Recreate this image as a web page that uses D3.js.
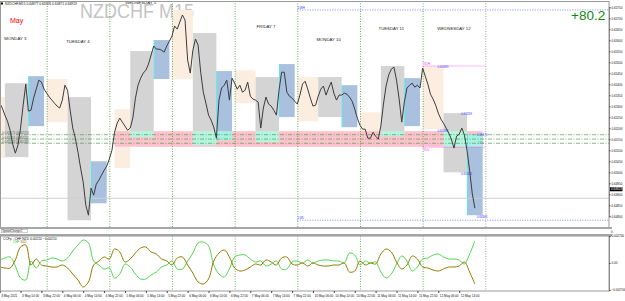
<!DOCTYPE html>
<html>
<head>
<meta charset="utf-8">
<script src="https://cdn.jsdelivr.net/npm/d3@7"></script>
<style>
body { margin: 0; background: #fff; }
svg { font-family: "Liberation Sans", Arial, sans-serif; }
</style>
</head>
<body>
<script>
// ---- data ----
var symbol = "NZDCHF", period = "M15";
var header = "NZDCHF,M15  0.64877 0.64926 0.64871 0.64923";
var score = "+80.2";

// hourly closes, first bar 3 May 06:00 (server time)
var firstBar = "2021-05-03 06:00";
var closes = [
  0.65314,0.65292,0.65260,0.65232,0.65191,0.65128,0.65087,0.65123,0.65201,0.65305,0.65401,0.65278,0.65282,0.65337,0.65378,0.65419,0.65410,0.65378,
  0.65360,0.65342,0.65328,0.65314,0.65301,0.65292,0.65328,0.65396,0.65373,0.65282,0.65201,0.65155,0.65091,0.65019,0.64955,0.64850,0.64805,0.64928,0.64896,0.64946,0.64964,0.64987,0.65009,0.65028,
  0.65060,0.65100,0.65182,0.65223,0.65246,0.65228,0.65210,0.65191,0.65201,0.65246,0.65337,0.65396,0.65428,0.65451,0.65464,0.65492,0.65533,0.65574,0.65560,0.65560,0.65555,0.65546,0.65574,0.65596,
  0.65619,0.65665,0.65651,0.65683,0.65715,0.65692,0.65510,0.65451,0.65555,0.65606,0.65578,0.65455,0.65364,0.65314,0.65260,0.65237,0.65205,0.65155,0.65328,0.65383,0.65396,0.65419,0.65328,0.65428,
  0.65405,0.65378,0.65396,0.65364,0.65373,0.65410,0.65346,0.65333,0.65328,0.65319,0.65201,0.65292,0.65342,0.65310,0.65301,0.65282,0.65260,0.65373,0.65455,0.65455,0.65364,0.65346,0.65337,0.65323,
  0.65310,0.65351,0.65401,0.65414,0.65378,0.65337,0.65301,0.65305,0.65346,0.65378,0.65392,0.65351,0.65383,0.65410,0.65360,0.65328,0.65351,0.65351,0.65360,0.65355,0.65342,0.65323,0.65287,0.65246,
  0.65214,0.65196,0.65196,0.65155,0.65155,0.65182,0.65164,0.65151,0.65210,0.65310,0.65392,0.65442,0.65469,0.65478,0.65419,0.65333,0.65228,0.65319,0.65383,0.65396,0.65405,0.65387,0.65396,0.65383,
  0.65474,0.65437,0.65401,0.65355,0.65333,0.65305,0.65269,0.65242,0.65223,0.65201,0.65178,0.65151,0.65110,0.65164,0.65173,0.65201,0.65169,0.65100,0.65009,0.64905,0.64837
];

var days = ["2021-05-03","2021-05-04","2021-05-05","2021-05-06","2021-05-07","2021-05-10","2021-05-11","2021-05-12"];
var dayNames = ["MONDAY 3","TUESDAY 4","WEDNESDAY 5","THURSDAY 6","FRIDAY 7","MONDAY 10","TUESDAY 11","WEDNESDAY 12"];

// session ranges: asia 00-08, london 08-17, new york 17-23
var asiaStart = ["00:00","00:00","02:00","00:00","00:00","00:00","00:00","00:00"];
var asiaHigh = [0.65342,0.65424,0.65287,0.65738,0.65464,0.65433,0.65273,0.65483];
var asiaLow  = [0.65064,0.65228,0.65019,0.65424,0.65314,0.65232,0.65114,0.65196];
var londonHigh = [0.65405,0.65342,0.65551,0.65633,0.65433,0.65433,0.65483,0.65269];
var londonLow  = [0.65069,0.64782,0.65160,0.65123,0.65138,0.65251,0.65164,0.65000];
var nyHigh = [0.65437,0.65050,0.65601,0.65460,0.65492,0.65396,0.65428,0.65173];
var nyLow  = [0.65210,0.64859,0.65424,0.65146,0.65251,0.65205,0.65210,0.64805];

// demand zone
var zoneHigh = 0.65187, zoneLow = 0.65116;
var zoneFrom = "2021-05-05 02:00", zoneTo = "2021-05-12 23:00";

var pivotLevels = [0.65171, 0.65151, 0.65132];
var bidLine = 0.64882, lastPrice = 0.64923;

var priceTicks = d3.range(0, 20).map(function(i) { return +(0.6480 + i * 0.0005).toFixed(4); });

// CCFp currency strength, every 2 hours from 3 May 06:00
var ccfStep = 2;
var chf = [0.0003,0.0005,0.0006,-0.0003,-0.0015,-0.0017,0.0002,-0.0005,0.0002,0.0003,
  0.0005,0.0004,0.0002,0.0005,0.0012,0.0018,0.0023,0.0020,0.0002,-0.0002,
  -0.0006,-0.0005,-0.0015,-0.0011,-0.0001,-0.0004,-0.0011,-0.0016,-0.0016,-0.0012,
  -0.0009,-0.0004,-0.0002,0.0002,-0.0006,-0.0006,0.0002,0.0010,0.0020,0.0021,
  0.0017,-0.0002,-0.0011,-0.0014,-0.0006,0.0006,0.0008,0.0008,0.0004,0.0001,
  0.0002,-0.0003,-0.0001,0.0002,-0.0006,-0.0006,0.0001,0.0002,0.0000,0.0003,
  0.0000,0.0002,0.0003,0.0003,0.0002,0.0002,0.0000,0.0010,0.0008,-0.0002,
  0.0002,0.0000,0.0001,-0.0009,-0.0015,-0.0011,-0.0001,0.0007,0.0002,-0.0008,
  -0.0004,0.0004,0.0005,0.0008,0.0009,0.0006,0.0004,0.0004,0.0003,-0.0001,
  0.0009,0.0022];
var nzd = [-0.0004,-0.0005,-0.0005,0.0003,0.0016,0.0018,-0.0002,0.0004,-0.0002,-0.0003,
  -0.0004,-0.0004,-0.0002,-0.0005,-0.0011,-0.0017,-0.0024,-0.0019,-0.0002,0.0002,
  0.0006,0.0004,0.0014,0.0011,0.0001,0.0004,0.0010,0.0015,0.0016,0.0011,
  0.0009,0.0004,0.0002,-0.0002,0.0005,0.0006,-0.0002,-0.0010,-0.0019,-0.0021,
  -0.0016,0.0002,0.0010,0.0013,0.0006,-0.0005,-0.0008,-0.0007,-0.0004,-0.0001,
  -0.0002,0.0003,0.0001,-0.0002,0.0005,0.0006,-0.0001,-0.0002,0.0000,-0.0003,
  0.0000,-0.0002,-0.0003,-0.0003,-0.0002,-0.0002,0.0000,-0.0009,-0.0008,0.0002,
  -0.0002,0.0000,-0.0001,0.0009,0.0014,0.0011,0.0001,-0.0006,-0.0002,0.0007,
  0.0004,-0.0004,-0.0005,-0.0007,-0.0008,-0.0006,-0.0004,-0.0004,-0.0003,0.0001,
  -0.0009,-0.0021];
var ccfTicks = [0.0027, 0, -0.0027];

// ---- layout ----
var svg = d3.select("body").append("svg")
    .attr("width", 625)
    .attr("height", 301)
    .style("display", "block");

var right = 609, mainTop = 1, mainBottom = 227, indTop = 236, indBottom = 291;

var parse = d3.timeParse("%Y-%m-%d %H:%M");
var weekStart = parse("2021-05-03 00:00");
// hours on the chart clock (weekend removed)
function th(s) {
    var h = (parse(s) - weekStart) / 36e5;
    return h >= 168 ? h - 48 : h;
}
var t0 = th(firstBar);

var x = d3.scaleLinear().domain([0, 239]).range([-16, 608]);
var y = d3.scaleLinear().domain([0.6480, 0.6575]).range([216.3, 7.3]);
var yi = d3.scaleLinear().domain([-0.0027, 0.0027]).range([290, 236]);

var defs = svg.append("defs");
defs.append("clipPath").attr("id", "clipMain")
    .append("rect").attr("x", 0).attr("y", mainTop).attr("width", right).attr("height", mainBottom - mainTop);
defs.append("clipPath").attr("id", "clipInd")
    .append("rect").attr("x", 0).attr("y", indTop).attr("width", right).attr("height", indBottom - indTop);

var g = svg.append("g").attr("clip-path", "url(#clipMain)");

// watermark
g.append("text")
    .attr("x", 80).attr("y", 18)
    .attr("textLength", 114).attr("lengthAdjust", "spacingAndGlyphs")
    .style("font-size", "20px").style("fill", "#c4c4c4")
    .text(symbol + " " + period);

// sessions
var boxes = [];
days.forEach(function(d, i) {
    boxes.push({kind: "asia", a: th(d + " " + asiaStart[i]), b: th(d + " 08:00"), hi: asiaHigh[i], lo: asiaLow[i]});
    boxes.push({kind: "london", a: th(d + " 08:00"), b: th(d + " 17:00"), hi: londonHigh[i], lo: londonLow[i]});
    boxes.push({kind: "ny", a: th(d + " 17:00"), b: th(d + " 23:00"), hi: nyHigh[i], lo: nyLow[i]});
});
var boxFill = {asia: "#fbeee0", london: "#d4d4d4", ny: "#a9c0df"};

g.selectAll("rect.box").data(boxes).enter().append("rect")
    .attr("class", "box")
    .attr("x", function(d) { return x(d.a); })
    .attr("width", function(d) { return x(d.b) - x(d.a); })
    .attr("y", function(d) { return y(d.hi); })
    .attr("height", function(d) { return y(d.lo) - y(d.hi); })
    .attr("fill", function(d) { return boxFill[d.kind]; });

// zone band
var za = th(zoneFrom), zb = th(zoneTo);
g.append("rect")
    .attr("x", x(za)).attr("width", x(zb) - x(za))
    .attr("y", y(zoneHigh)).attr("height", y(zoneLow) - y(zoneHigh))
    .attr("fill", "#ffc2cd");

// where london / ny boxes cross the zone the colours mix to mint
boxes.filter(function(d) { return d.kind != "asia" && d.b > za && d.lo < zoneHigh && d.hi > zoneLow; })
    .forEach(function(d) {
        var top = Math.min(d.hi, zoneHigh), bot = Math.max(d.lo, zoneLow);
        g.append("rect")
            .attr("x", x(Math.max(d.a, za))).attr("width", x(d.b) - x(Math.max(d.a, za)))
            .attr("y", y(top)).attr("height", y(bot) - y(top))
            .attr("fill", d.kind == "ny" ? "#a6f0e4" : "#b6f4e2");
    });

// cyan left edge on ny boxes
g.selectAll("line.nyedge").data(boxes.filter(function(d) { return d.kind == "ny"; })).enter().append("line")
    .attr("x1", function(d) { return x(d.a) + 0.5; }).attr("x2", function(d) { return x(d.a) + 0.5; })
    .attr("y1", function(d) { return y(d.hi); }).attr("y2", function(d) { return y(d.lo); })
    .attr("stroke", "#5fe8e8").attr("stroke-width", 1);

// bid line
g.append("line").attr("x1", 0).attr("x2", right).attr("y1", y(bidLine)).attr("y2", y(bidLine))
    .attr("stroke", "#cfcfcf").attr("stroke-width", 1);

// pivot levels
g.selectAll("line.pivot").data(pivotLevels).enter().append("line")
    .attr("x1", 0).attr("x2", right)
    .attr("y1", function(d) { return y(d); }).attr("y2", function(d) { return y(d); })
    .attr("stroke", "#4f9f4f").attr("stroke-width", 0.7).attr("stroke-dasharray", "4,1.5,1,1.5");
g.selectAll("text.pivot").data(pivotLevels).enter().append("text")
    .attr("x", 2).attr("y", function(d) { return y(d) - 0.5; })
    .style("font-size", "3px").style("fill", "#555")
    .text(function(d) { return "0 " + d3.format(".5f")(d) + " (" + d3.format(".5f")(d) + ")"; });

// last week high / low
var lastWeek = boxes.slice(0, 15);
var lwh = d3.max(lastWeek, function(d) { return d.hi; });
var lwl = d3.min(lastWeek, function(d) { return d.lo; });
var lwFrom = th("2021-05-10 00:00");
[["LWH", lwh, -0.8], ["LWL", lwl, -0.8]].forEach(function(l) {
    g.append("line").attr("x1", x(lwFrom)).attr("x2", right).attr("y1", y(l[1])).attr("y2", y(l[1]))
        .attr("stroke", "#6b6bff").attr("stroke-width", 0.8).attr("stroke-dasharray", "1,1.5");
    g.append("text").attr("x", x(lwFrom) + 0.5).attr("y", y(l[1]) + l[2])
        .style("font-size", "3.3px").style("fill", "#4444ff").text(l[0]);
});

// yesterday high / low
var yest = boxes.slice(18, 21);
var ydh = d3.max(yest, function(d) { return d.hi; });
var ydl = d3.min(yest, function(d) { return d.lo; });
var ydFrom = th("2021-05-12 00:00"), ydTo = th("2021-05-12 00:00") + 24;
[["YDH", ydh, -0.8], ["YDL", ydl, 3.5]].forEach(function(l) {
    g.append("line").attr("x1", x(ydFrom)).attr("x2", x(ydTo)).attr("y1", y(l[1])).attr("y2", y(l[1]))
        .attr("stroke", "#ff4cff").attr("stroke-width", 0.8).attr("stroke-dasharray", "1,1");
    g.append("text").attr("x", x(ydFrom) + 0.5).attr("y", y(l[1]) + l[2])
        .style("font-size", "3.3px").style("fill", "#ff33ff").text(l[0]);
});

// today's session values
var fmt5 = d3.format(".5f");
boxes.slice(21).forEach(function(d) {
    g.append("text").attr("x", x(d.b) - 6).attr("y", y(d.hi) + 2.2)
        .style("font-size", "3px").style("fill", "#3a3aff").text(fmt5(d.hi));
    g.append("text").attr("x", x(d.b) - 6).attr("y", y(d.lo) + 2.8)
        .style("font-size", "3px").style("fill", "#3a3aff").text(fmt5(d.lo));
});
g.append("text").attr("x", 478).attr("y", 144).style("font-size", "3px").style("fill", "#888").text("23%");

// day separators
var sepDays = days.slice(1).concat(["2021-05-13"]);
function separators(sel, top, bottom) {
    sel.selectAll("line.sep").data(sepDays).enter().append("line")
        .attr("x1", function(d) { return x(th(d + " 00:00")) + 0.5; })
        .attr("x2", function(d) { return x(th(d + " 00:00")) + 0.5; })
        .attr("y1", top).attr("y2", bottom)
        .attr("stroke", function(d, i) { return i == sepDays.length - 1 ? "#8a8a8a" : "#3d9d3d"; })
        .attr("stroke-width", 0.8).attr("stroke-dasharray", "1,1.5");
}
separators(g, mainTop, mainBottom);

// price
var line = d3.line()
    .x(function(d, i) { return x(t0 + i); })
    .y(function(d) { return y(d); });
g.append("path").datum(closes)
    .attr("d", line).attr("fill", "none")
    .attr("stroke", "#3c3c3c").attr("stroke-width", 1);

// day names above each day's high (thursday's falls off the top)
var dayLabels = days.map(function(d, i) {
    return {name: dayNames[i], t: th(d + " 12:00"), y: y(d3.max([asiaHigh[i], londonHigh[i], nyHigh[i]])) - 36};
}).filter(function(d) { return d.y > 3; });
g.selectAll("text.day").data(dayLabels).enter().append("text")
    .attr("x", function(d) { return x(d.t); })
    .attr("y", function(d) { return d.y; })
    .attr("text-anchor", "middle")
    .style("font-size", "4.3px").style("fill", "#222")
    .text(function(d) { return d.name; });

// labels
svg.append("rect").attr("x", 1).attr("y", 2.5).attr("width", 2).attr("height", 2).attr("fill", "#000");
svg.append("text").attr("x", 5).attr("y", 5).style("font-size", "3.3px").style("fill", "#111").text(header);
svg.append("text").attr("x", 10).attr("y", 22.5).style("font-size", "7px").style("fill", "#ff0000").text("May");
svg.append("text").attr("x", 571).attr("y", 19.5).style("font-size", "13.5px").style("fill", "#108a10").text(score);

// frames
svg.append("rect").attr("x", 0.5).attr("y", mainTop + 0.5).attr("width", right - 0.5).attr("height", mainBottom - mainTop)
    .attr("fill", "none").attr("stroke", "#9a9a9a").attr("stroke-width", 1);

// price scale
var yAxis = d3.axisRight(y).tickValues(priceTicks).tickSize(1.5).tickPadding(1).tickFormat(fmt5);
svg.append("g").attr("transform", "translate(" + right + ",0)").call(yAxis)
    .call(function(a) {
        a.select(".domain").attr("stroke", "#8a8a8a");
        a.selectAll(".tick line").attr("stroke", "#444");
        a.selectAll(".tick text").style("font-size", "3px").style("fill", "#111").attr("font-family", "Liberation Sans, Arial");
    });
svg.append("rect").attr("x", right + 1).attr("y", y(lastPrice) - 2).attr("width", 12.5).attr("height", 4).attr("fill", "#000");
svg.append("text").attr("x", right + 2).attr("y", y(lastPrice) + 1.1).style("font-size", "3px").style("fill", "#fff").text(fmt5(lastPrice));

// symbol changer strip
svg.append("rect").attr("x", 0).attr("y", 227).attr("width", 612).attr("height", 2).attr("fill", "#a6a6a6");
svg.append("rect").attr("x", 0).attr("y", 234).attr("width", 612).attr("height", 2).attr("fill", "#a6a6a6");
svg.append("rect").attr("x", 1.5).attr("y", 229.6).attr("width", 26).attr("height", 3.2)
    .attr("fill", "#fff").attr("stroke", "#888").attr("stroke-width", 0.4);
svg.append("text").attr("x", 2.3).attr("y", 232.2).style("font-size", "2.6px").style("fill", "#222").text("SymbolChanger1");
svg.append("text").attr("x", right + 2).attr("y", 232.5).style("font-size", "3px").style("fill", "#111").text("0");

// CCFp window
var gi = svg.append("g").attr("clip-path", "url(#clipInd)");
separators(gi, indTop, indBottom);

var ccfLine = d3.line()
    .x(function(d, i) { return x(t0 + i * ccfStep); })
    .y(function(d) { return yi(d); })
    .curve(d3.curveCatmullRom);
gi.append("path").datum(chf).attr("d", ccfLine).attr("fill", "none").attr("stroke", "#4fd64f").attr("stroke-width", 1);
gi.append("path").datum(nzd).attr("d", ccfLine).attr("fill", "none").attr("stroke", "#8f7a00").attr("stroke-width", 1);

svg.append("text").attr("x", 3).attr("y", 239.5).style("font-size", "3.3px").style("fill", "#111")
    .text("CCFp - CHF NZD " + fmt5(chf[chf.length - 1]) + " " + fmt5(nzd[nzd.length - 1]));
svg.append("text").attr("x", 13).attr("y", 243).style("font-size", "3px").style("fill", "#2fb82f").text("CHF");
svg.append("text").attr("x", 20.5).attr("y", 243).style("font-size", "3px").style("fill", "#8f7a00").text("NZD");

svg.append("rect").attr("x", 0.5).attr("y", indTop).attr("width", right - 0.5).attr("height", indBottom - indTop)
    .attr("fill", "none").attr("stroke", "#9a9a9a").attr("stroke-width", 1);

var yiAxis = d3.axisRight(yi).tickValues(ccfTicks).tickSize(1.5).tickPadding(1)
    .tickFormat(function(d) { return d == 0 ? "0.00" : d3.format(".6f")(d); });
svg.append("g").attr("transform", "translate(" + right + ",0)").call(yiAxis)
    .call(function(a) {
        a.select(".domain").attr("stroke", "#8a8a8a");
        a.selectAll(".tick line").attr("stroke", "#444");
        a.selectAll(".tick text").style("font-size", "3px").style("fill", "#111");
    });

// time scale
var timeTicks = d3.range(6, 183, 8);
function timeLabel(h, i) {
    var day = h < 120 ? 3 + Math.floor(h / 24) : 10 + Math.floor((h - 120) / 24);
    if (i == 0) return day + " May 2021";
    return day + " May " + d3.format("02")(h % 24) + ":00";
}
var xAxis = d3.axisBottom(x).tickValues(timeTicks).tickSize(2).tickFormat(timeLabel);
svg.append("g").attr("transform", "translate(0," + indBottom + ")").call(xAxis)
    .call(function(a) {
        a.select(".domain").remove();
        a.selectAll(".tick line").attr("stroke", "#444");
        a.selectAll(".tick text").attr("text-anchor", "start").attr("x", 1).attr("y", 3.5)
            .style("font-size", "3.1px").style("fill", "#111");
    });
</script>
</body>
</html>
